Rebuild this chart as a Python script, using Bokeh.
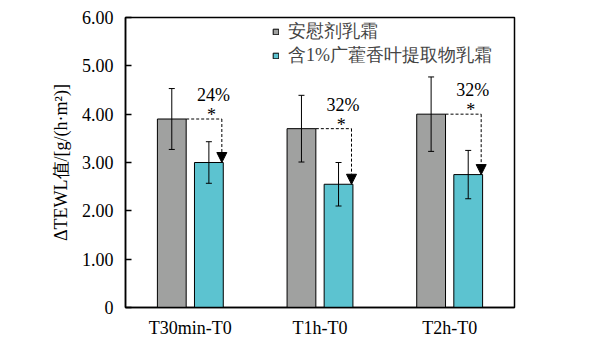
from bokeh.plotting import figure
from bokeh.models import (ColumnDataSource, Range1d, FixedTicker, Whisker, TeeHead,
                          Arrow, NormalHead, Legend, LegendItem)
from bokeh.embed import file_html
from bokeh.resources import INLINE

categories = ["T30min-T0", "T1h-T0", "T2h-T0"]
placebo = [3.90, 3.70, 4.00]
placebo_err = [0.63, 0.69, 0.77]
extract = [3.00, 2.55, 2.75]
extract_err = [0.43, 0.45, 0.50]
reductions = ["24%", "32%", "32%"]
series_names = ["安慰剂乳霜", "含1%广藿香叶提取物乳霜"]
y_ticks = [0, 1, 2, 3, 4, 5, 6]
y_tick_labels = ["0", "1.00", "2.00", "3.00", "4.00", "5.00", "6.00"]

GRAY = "#a0a1a0"
CYAN = "#5cc3d0"
SERIF = "Liberation Serif"

off = 0.143
bw = 0.222
xc = [i + 0.5 for i in range(len(categories))]
xg = [x - off for x in xc]
xe = [x + off for x in xc]

p = figure(width=591, height=340, output_backend="svg", toolbar_location=None,
           x_range=Range1d(0, 3), y_range=Range1d(0, 6),
           min_border_left=125, min_border_right=77, min_border_top=17, min_border_bottom=31)

src_g = ColumnDataSource(dict(x=xg, top=placebo,
                              upper=[v + e for v, e in zip(placebo, placebo_err)],
                              lower=[v - e for v, e in zip(placebo, placebo_err)]))
src_e = ColumnDataSource(dict(x=xe, top=extract,
                              upper=[v + e for v, e in zip(extract, extract_err)],
                              lower=[v - e for v, e in zip(extract, extract_err)]))

rg = p.vbar(x="x", top="top", width=bw, source=src_g, fill_color=GRAY, line_color="black", line_width=1)
re_ = p.vbar(x="x", top="top", width=bw, source=src_e, fill_color=CYAN, line_color="black", line_width=1)

for src in (src_g, src_e):
    w = Whisker(source=src, base="x", upper="upper", lower="lower", line_color="black", line_width=1,
                upper_head=TeeHead(size=6, line_color="black", line_width=1),
                lower_head=TeeHead(size=6, line_color="black", line_width=1), level="overlay")
    p.add_layout(w)

# dashed connectors
arrow_x = [x + 0.10 for x in xe]
p.segment(x0=[x + bw / 2 for x in xg], y0=placebo, x1=arrow_x, y1=placebo,
          line_color="black", line_dash="3 2", line_width=1)
arr_src = ColumnDataSource(dict(x0=arrow_x, y0=placebo, x1=arrow_x, y1=extract))
p.add_layout(Arrow(source=arr_src, x_start="x0", y_start="y0", x_end="x1", y_end="y1",
                   line_color="black", line_dash="3 2", line_width=1,
                   end=NormalHead(size=10, fill_color="black", line_color="black", line_width=1)))

star_src = ColumnDataSource(dict(x=[x + 0.02 for x in xe], y=placebo, t=["*"] * 3))
p.text(x="x", y="y", text="t", source=star_src, text_font=SERIF, text_font_size="18px",
       text_align="center", text_baseline="middle", y_offset=-4, text_color="black")
pct_src = ColumnDataSource(dict(x=[x + 0.035 for x in xe], y=placebo, t=reductions))
p.text(x="x", y="y", text="t", source=pct_src, text_font=SERIF, text_font_size="18px",
       text_align="center", text_baseline="middle", y_offset=-24, text_color="black")

# axes
p.xgrid.visible = False
p.ygrid.visible = False
p.outline_line_color = "black"
p.outline_line_width = 1.5

p.xaxis.ticker = FixedTicker(ticks=xc)
p.xaxis.major_label_overrides = {x: c for x, c in zip(xc, categories)}
p.xaxis.major_tick_in = 0
p.xaxis.major_tick_out = 0
p.xaxis.minor_tick_line_color = None
p.xaxis.major_label_standoff = 10

p.yaxis.ticker = FixedTicker(ticks=y_ticks)
p.yaxis.major_label_overrides = {t: l for t, l in zip(y_ticks, y_tick_labels)}
p.yaxis.major_tick_in = 6
p.yaxis.major_tick_out = 0
p.yaxis.minor_tick_line_color = None
p.yaxis.major_label_standoff = 12
p.yaxis.axis_label = "ΔTEWL值/[g/(h·m²)]"
p.yaxis.axis_label_standoff = 8
p.yaxis.axis_label_text_font_style = "normal"

for ax in (p.xaxis, p.yaxis):
    ax.axis_line_width = 1.5
    ax.axis_line_color = "black"
    ax.major_tick_line_width = 1.5
    ax.major_label_text_font = SERIF
    ax.major_label_text_font_size = "18px"
    ax.major_label_text_color = "black"
    ax.axis_label_text_font = SERIF
    ax.axis_label_text_font_size = "18px"
    ax.axis_label_text_color = "black"

legend = Legend(items=[LegendItem(label=series_names[0], renderers=[rg]),
                       LegendItem(label=series_names[1], renderers=[re_])],
                location=(147, 240), border_line_color=None, background_fill_alpha=0,
                glyph_width=7, glyph_height=7, label_standoff=9, spacing=-7, padding=0,
                margin=0, label_height=18, label_text_font=SERIF, label_text_font_size="18px",
                label_text_line_height=1.0)
p.add_layout(legend)

open("out.html", "w").write(file_html(p, INLINE))
